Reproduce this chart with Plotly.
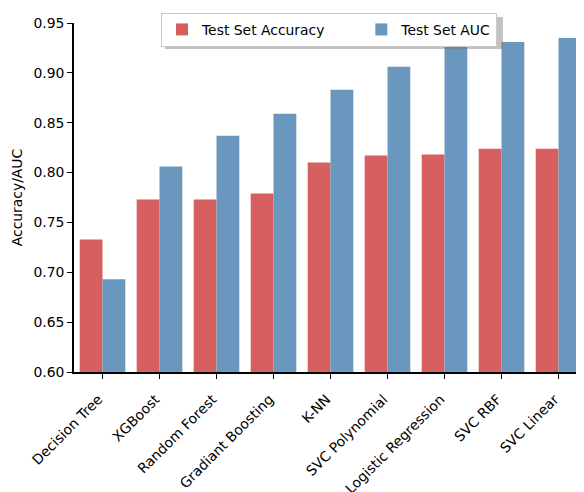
import plotly.graph_objects as go

models = ["Decision Tree", "XGBoost", "Random Forest", "Gradiant Boosting", "K-NN",
          "SVC Polynomial", "Logistic Regression", "SVC RBF", "SVC Linear"]
accuracy = [0.733, 0.773, 0.773, 0.779, 0.810, 0.817, 0.818, 0.824, 0.824]
auc = [0.693, 0.806, 0.837, 0.859, 0.883, 0.906, 0.927, 0.931, 0.935]
y_ticks = [0.60, 0.65, 0.70, 0.75, 0.80, 0.85, 0.90, 0.95]

RED = "#d65f5f"
BLUE = "#6a97bd"
NB = "\u00a0"
FS = 13.9

fig = go.Figure()
fig.add_trace(go.Bar(x=models, y=accuracy, name="Test Set Accuracy" + NB * 7, marker_color=RED,
                     marker_line_width=0))
fig.add_trace(go.Bar(x=models, y=auc, name="Test Set AUC", marker_color=BLUE,
                     marker_line_width=0))

# soft shadow behind the legend box
fig.add_shape(type="rect", xref="paper", yref="paper", x0=0.1784, x1=0.841, y0=0.9255, y1=1.0172,
              fillcolor="rgba(120,120,120,0.45)", line_width=0, layer="above")

fig.update_layout(
    width=576, height=484,
    margin=dict(l=66, r=0, t=15, b=120, autoexpand=False),
    barmode="group", bargap=0.2, bargroupgap=0,
    plot_bgcolor="white", paper_bgcolor="white",
    font=dict(family="DejaVu Sans", size=FS, color="black"),
    showlegend=True,
    legend=dict(orientation="h", x=0.5, xanchor="center", y=1.029, yanchor="top",
                bgcolor="white", bordercolor="#c8c8c8", borderwidth=1,
                font=dict(size=FS), itemwidth=30),
    xaxis=dict(range=[-0.5, 8.447], showline=True, linecolor="black", linewidth=1.5,
               ticks="outside", ticklen=5, tickwidth=1.2, tickcolor="black",
               tickangle=-45, showgrid=False, tickfont=dict(size=FS), automargin=False,
               ticklabelstandoff=7, ticklabelshift=-4),
    yaxis=dict(range=[0.60, 0.95], tickvals=y_ticks, tickformat=".2f",
               showline=True, linecolor="black", linewidth=1.5,
               ticks="outside", ticklen=5, tickwidth=1.2, tickcolor="black",
               showgrid=False, zeroline=False, tickfont=dict(size=FS), automargin=False,
               title=dict(text="Accuracy/AUC", font=dict(size=FS), standoff=8)),
)

fig.write_html("out.html")
